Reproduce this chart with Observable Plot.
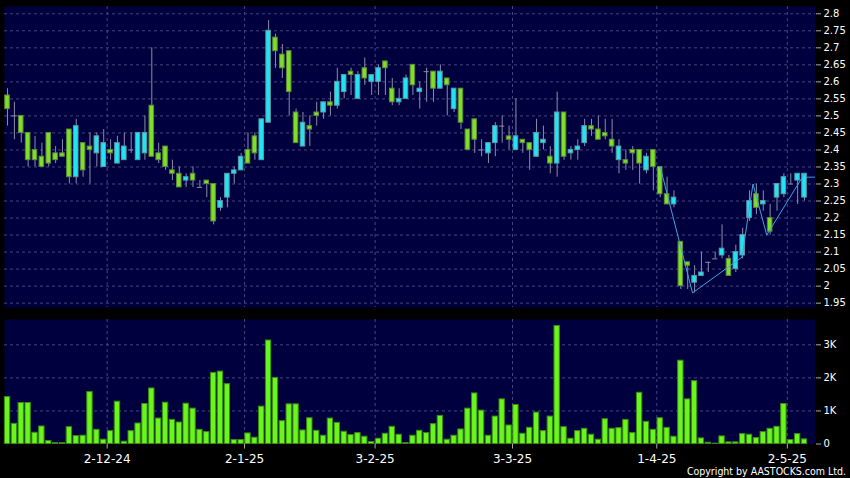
<!DOCTYPE html>
<html><head><meta charset="utf-8">
<script src="https://cdn.jsdelivr.net/npm/d3@7"></script>
<script src="https://cdn.jsdelivr.net/npm/@observablehq/plot@0.6"></script>
<style>
html,body{margin:0;padding:0;background:#000;}
#wrap{position:relative;width:850px;height:478px;background:#000;overflow:hidden;}
#price,#vol{position:absolute;left:0;}
#price{top:0}
#vol{top:312px}
#copy{position:absolute;right:4px;top:465px;color:#fff;font:10.5px "DejaVu Sans Condensed","DejaVu Sans",sans-serif;white-space:nowrap;}
svg{overflow:visible}
</style></head><body>
<div id="wrap"><div id="price"></div><div id="vol"></div><div id="copy">Copyright by AASTOCKS.com Ltd.</div></div>
<script>
// Daily candles (index 0 = first trading day shown)
const opens  = [2.56,2.50,2.50,2.45,2.40,2.38,2.45,2.39,2.39,2.46, 2.32,2.42,2.41,2.39,2.35,2.40,2.36,2.37,2.40,2.37,
                2.39,2.53,2.39,2.41,2.34,2.33,2.31,2.33,2.29,2.31, 2.30,2.23,2.26,2.33,2.34,2.40,2.44,2.37,2.48,2.73,
                2.68,2.69,2.51,2.41,2.47,2.51,2.51,2.54,2.53,2.57, 2.63,2.55,2.64,2.60,2.60,2.66,2.58,2.54,2.55,2.65,
                2.57,2.63,2.63,2.58,2.61,2.52,2.58,2.46,2.49,2.40, 2.39,2.42,2.47,2.44,2.40,2.43,2.42,2.38,2.42,2.38,
                2.36,2.51,2.39,2.40,2.42,2.47,2.46,2.45,2.43,2.37, 2.37,2.40,2.40,2.34,2.40,2.35,2.27,2.24,2.13,2.07,
                2.01,2.03,2.07,2.08,2.09,2.08,2.05,2.09,2.20,2.27, 2.24,2.20,2.26,2.27,2.30,2.31,2.26];
const highs  = [2.58,2.54,2.50,2.45,2.44,2.42,2.45,2.41,2.43,2.46, 2.49,2.42,2.45,2.45,2.46,2.43,2.44,2.45,2.45,2.45,
                2.50,2.70,2.42,2.41,2.37,2.35,2.33,2.35,2.31,2.31, 2.30,2.26,2.33,2.35,2.39,2.45,2.45,2.49,2.78,2.74,
                2.71,2.69,2.52,2.51,2.50,2.54,2.54,2.57,2.64,2.62, 2.64,2.63,2.67,2.62,2.65,2.66,2.61,2.58,2.62,2.65,
                2.60,2.64,2.63,2.65,2.61,2.58,2.58,2.46,2.49,2.43, 2.42,2.48,2.50,2.47,2.55,2.43,2.42,2.49,2.47,2.41,
                2.57,2.51,2.41,2.43,2.49,2.49,2.50,2.49,2.49,2.43, 2.40,2.41,2.40,2.39,2.40,2.35,2.32,2.28,2.13,2.07,
                2.06,2.10,2.07,2.10,2.18,2.09,2.12,2.17,2.28,2.30, 2.28,2.24,2.30,2.33,2.33,2.33,2.33];
const lows   = [2.47,2.43,2.42,2.35,2.35,2.35,2.35,2.36,2.38,2.30, 2.30,2.32,2.30,2.35,2.35,2.37,2.36,2.37,2.39,2.37,
                2.37,2.38,2.36,2.34,2.31,2.29,2.29,2.29,2.29,2.26, 2.18,2.22,2.23,2.30,2.34,2.36,2.37,2.37,2.48,2.64,
                2.61,2.50,2.42,2.41,2.41,2.47,2.49,2.50,2.52,2.55, 2.56,2.55,2.59,2.56,2.56,2.56,2.53,2.53,2.55,2.56,
                2.52,2.54,2.54,2.58,2.50,2.51,2.46,2.40,2.39,2.38, 2.36,2.38,2.42,2.40,2.40,2.39,2.34,2.38,2.40,2.33,
                2.32,2.37,2.37,2.37,2.41,2.44,2.43,2.43,2.39,2.33, 2.34,2.34,2.30,2.33,2.28,2.26,2.24,2.23,1.99,1.99,
                1.98,2.03,2.04,2.08,2.08,2.03,2.04,2.08,2.19,2.21, 2.22,2.15,2.22,2.26,2.30,2.24,2.25];
const closes = [2.52,2.50,2.45,2.37,2.37,2.35,2.36,2.37,2.38,2.32, 2.47,2.34,2.40,2.44,2.42,2.39,2.42,2.41,2.40,2.45,
                2.45,2.38,2.37,2.35,2.33,2.29,2.32,2.31,2.29,2.30, 2.19,2.25,2.33,2.34,2.38,2.36,2.39,2.49,2.75,2.69,
                2.64,2.57,2.42,2.48,2.46,2.50,2.54,2.53,2.60,2.62, 2.62,2.62,2.61,2.62,2.64,2.64,2.54,2.55,2.61,2.59,
                2.58,2.63,2.58,2.63,2.59,2.58,2.48,2.40,2.43,2.40, 2.42,2.47,2.47,2.43,2.44,2.42,2.40,2.45,2.43,2.36,
                2.51,2.38,2.40,2.41,2.47,2.46,2.43,2.44,2.41,2.41, 2.36,2.39,2.36,2.38,2.35,2.27,2.24,2.26,2.00,2.06,
                2.03,2.04,2.07,2.08,2.11,2.03,2.10,2.15,2.25,2.23, 2.25,2.16,2.30,2.32,2.30,2.33,2.33];
// Volume in thousands
const volumeK = [1.42,0.61,1.24,1.24,0.34,0.53,0.09,0.03,0.03,0.51, 0.24,0.25,1.57,0.43,0.13,0.39,1.28,0.07,0.39,0.62,
                 1.21,1.68,0.77,1.25,0.73,0.65,1.22,1.07,0.43,0.36, 2.15,2.19,1.81,0.12,0.12,0.32,0.19,1.13,3.13,2.00,
                 0.69,1.20,1.20,0.41,0.78,0.40,0.25,0.77,0.64,0.37, 0.27,0.33,0.22,0.06,0.16,0.31,0.52,0.28,0.03,0.25,
                 0.40,0.33,0.60,0.85,0.13,0.25,0.44,1.07,1.53,1.01, 0.25,0.83,1.35,0.56,1.18,0.31,0.49,0.95,0.39,0.83,
                 3.57,0.51,0.16,0.39,0.46,0.28,0.13,0.75,0.46,0.48, 0.73,0.33,1.55,0.67,0.43,0.78,0.49,0.22,2.52,1.35,
                 1.90,0.17,0.04,0.01,0.23,0.05,0.05,0.30,0.28,0.18, 0.36,0.46,0.52,1.21,0.12,0.30,0.14];
const tickIndex  = [15, 35, 54, 74, 95, 114];
const tickLabels = ["2-12-24", "2-1-25", "3-2-25", "3-3-25", "1-4-25", "2-5-25"];
const priceTicks = [1.95,2,2.05,2.1,2.15,2.2,2.25,2.3,2.35,2.4,2.45,2.5,2.55,2.6,2.65,2.7,2.75,2.8];
const volumeTicks = [0, 1, 2, 3];
const zigIndex = [95, 99.7, 106.9, 108.5, 110.5, 116];
const zigPrice = [2.35, 1.98, 2.085, 2.30, 2.15, 2.33];
const lastPrice = 2.32;

const navy = "#00003f", grid = "#45457c", wick = "#8c8ca6";
const upFill = "#22e3f2", upStroke = "#5a9aa6", dnFill = "#7ddf26", dnStroke = "#5f8a3c";
const xDomain = [-0.44, 117.6];

const candles = opens.map((o, i) => ({i, o, h: highs[i], l: lows[i], c: closes[i]}));
const bodies = candles.filter(d => d.o !== d.c);
const dojis = candles.filter(d => d.o === d.c);
const zig = zigIndex.map((x, k) => ({x, y: zigPrice[k]}));
const vols = volumeK.map((v, i) => ({i, v}));
const fmt = d => String(+d.toFixed(2));
const labelOf = d => tickLabels[tickIndex.indexOf(Math.round(d + 0.5))];

const price = Plot.plot({
  width: 850, height: 312,
  marginLeft: 4, marginRight: 35, marginTop: 6, marginBottom: 5,
  style: {background: "transparent", color: "#fff", fontFamily: "DejaVu Sans", fontSize: "10px"},
  x: {domain: xDomain, axis: null},
  y: {domain: [1.9372, 2.8214], axis: null},
  marks: [
    Plot.frame({fill: navy}),
    Plot.ruleY(priceTicks, {stroke: grid, strokeDasharray: "3,3"}),
    Plot.ruleX(tickIndex, {x: d => d - 0.5, stroke: grid, strokeDasharray: "3,3"}),
    Plot.ruleX(candles, {x: "i", y1: "l", y2: "h", stroke: wick, strokeWidth: 1}),
    Plot.rect(bodies, {x1: d => d.i - 0.33, x2: d => d.i + 0.33, y1: d => Math.min(d.o, d.c), y2: d => Math.max(d.o, d.c),
      fill: d => d.c > d.o ? upFill : dnFill, stroke: d => d.c > d.o ? upStroke : dnStroke, strokeWidth: 1}),
    Plot.ruleY(dojis, {x1: d => d.i - 0.38, x2: d => d.i + 0.38, y: "o", stroke: wick, strokeWidth: 1}),
    Plot.line(zig, {x: "x", y: "y", stroke: "#3fa3e3", strokeWidth: 1}),
    Plot.ruleY([lastPrice], {x1: closes.length - 1 + 0.3, x2: xDomain[1], stroke: "#3fa3e3", strokeWidth: 1}),
    Plot.axisY(priceTicks, {anchor: "right", tickSize: 5, tickPadding: 3, tickFormat: fmt, stroke: "#aaa", fill: "#fff", label: null, fontSize: 10})
  ]
});
document.getElementById("price").append(price);

const vol = Plot.plot({
  width: 850, height: 166,
  marginLeft: 4, marginRight: 35, marginTop: 7, marginBottom: 34.5,
  style: {background: "transparent", color: "#fff", fontFamily: "DejaVu Sans", fontSize: "10px"},
  x: {domain: xDomain, axis: null},
  y: {domain: [0, 3.766], axis: null},
  marks: [
    Plot.frame({fill: navy}),
    Plot.ruleY(volumeTicks.filter(v => v > 0), {stroke: grid, strokeDasharray: "3,3"}),
    Plot.ruleX(tickIndex, {x: d => d - 0.5, stroke: grid, strokeDasharray: "3,3"}),
    Plot.rect(vols, {x1: d => d.i - 0.39, x2: d => d.i + 0.39, y1: 0, y2: "v", fill: "#6af51d", stroke: "#3a8a12", strokeWidth: 1}),
    Plot.axisY(volumeTicks, {anchor: "right", tickSize: 5, tickPadding: 3, tickFormat: d => d === 0 ? "0" : d + "K", stroke: "#aaa", fill: "#fff", label: null, fontSize: 10}),
    Plot.axisX(tickIndex.map(d => d - 0.5), {anchor: "bottom", tickSize: 5, tickPadding: 5, tickFormat: labelOf, stroke: "#aaa", fill: "#fff", label: null, fontSize: 12})
  ]
});
document.getElementById("vol").append(vol);
</script>
</body></html>
